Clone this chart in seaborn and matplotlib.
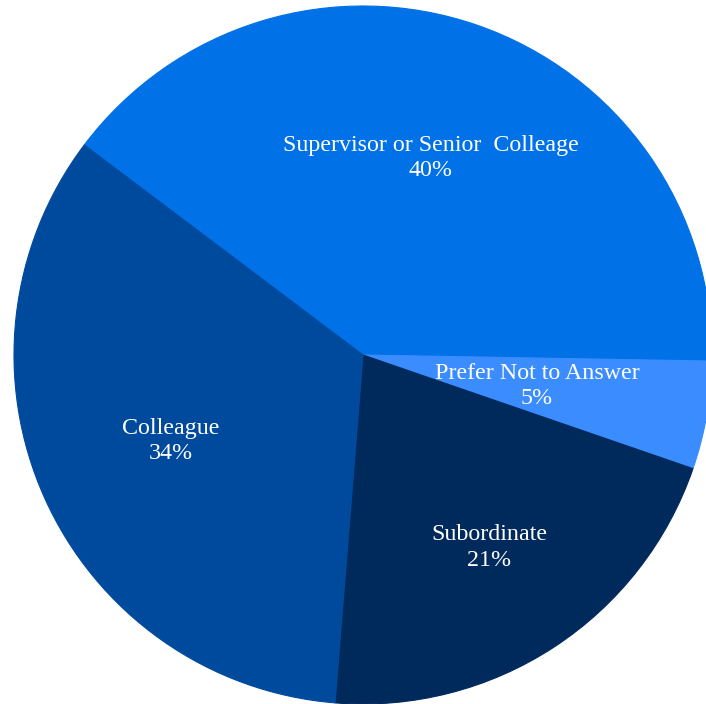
import numpy as np
import matplotlib
matplotlib.use("Agg")
import matplotlib.pyplot as plt
import seaborn as sns

categories = ["Supervisor or Senior  Colleage", "Prefer Not to Answer", "Subordinate", "Colleague"]
shares = [40, 5, 21, 34]
colors = ["#0071E6", "#3A8CFF", "#00295C", "#004A9E"]
label_radius = [0.597, 0.506, 0.659, 0.604]

sns.set_theme(style="white")
plt.rcParams["font.family"] = ["Liberation Serif", "DejaVu Serif"]

fig = plt.figure(figsize=(7.06, 7.04), dpi=100)
ax = fig.add_axes([0, 0, 1, 1])
palette = sns.color_palette(colors)

wedges, _ = ax.pie(
    shares,
    colors=palette,
    startangle=143,
    counterclock=False,
    radius=1.0,
    wedgeprops=dict(linewidth=0),
)
# Seal antialiasing seams between neighbouring wedges
for w in wedges:
    w.set_edgecolor(w.get_facecolor())
    w.set_linewidth(0.8)

for w, name, val, r in zip(wedges, categories, shares, label_radius):
    mid = np.deg2rad((w.theta1 + w.theta2) / 2)
    ax.text(r * np.cos(mid), r * np.sin(mid), f"{name}\n{val}%",
            ha="center", va="center", color="white", fontsize=17.3,
            linespacing=1.26)

# Pie centre sits at pixel (363, 355) with a 349 px radius
scale = 349.0
cx, cy = 363.0, 355.0
ax.set_xlim(-cx / scale, (706 - cx) / scale)
ax.set_ylim(-(704 - cy) / scale, cy / scale)
ax.set_aspect("equal")
ax.axis("off")

fig.savefig("out.png", dpi=100, facecolor="white")
